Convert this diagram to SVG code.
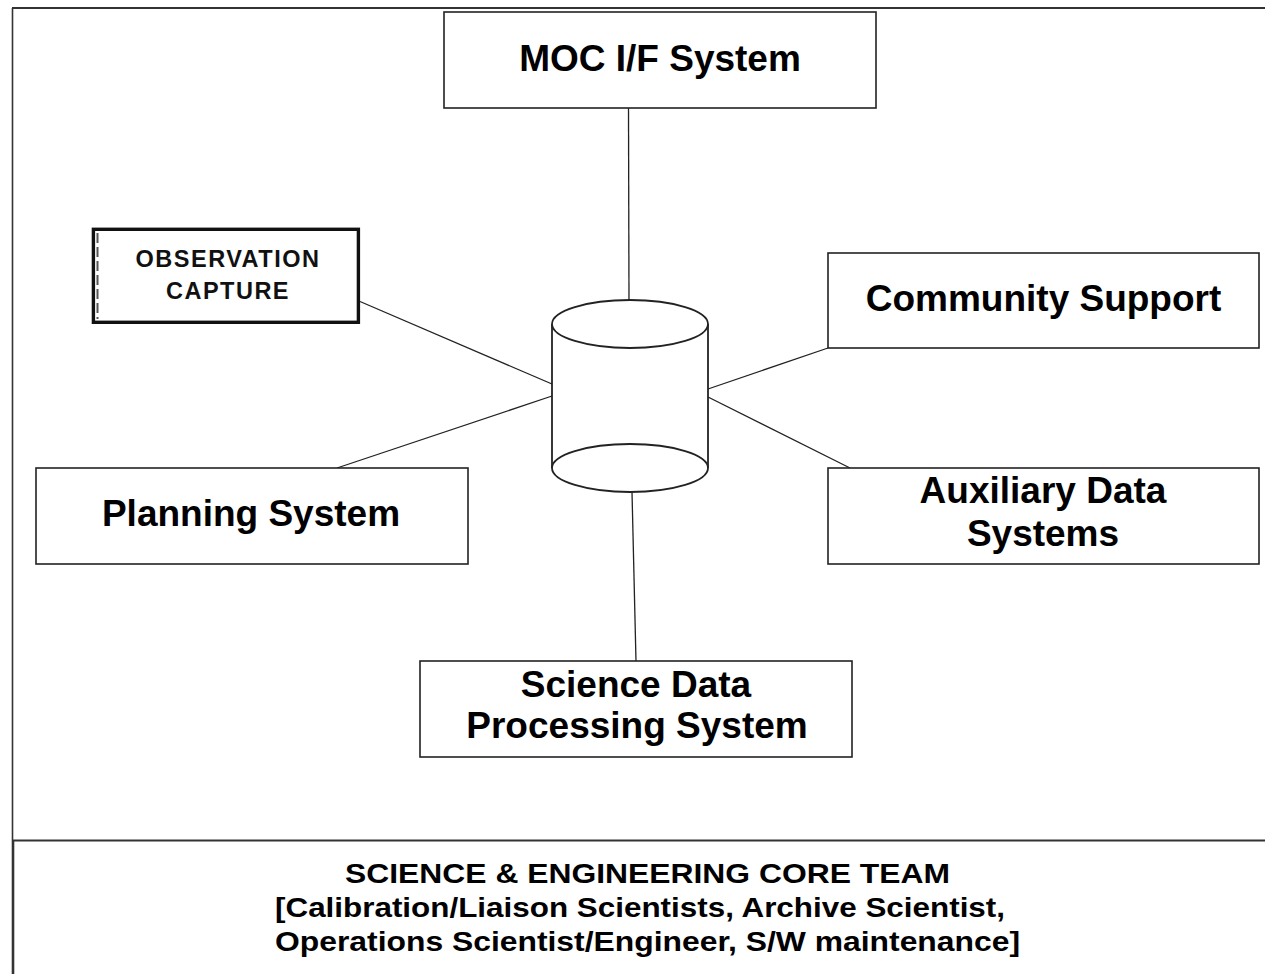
<svg xmlns="http://www.w3.org/2000/svg" width="1265" height="977" viewBox="0 0 1265 977">
  <style>
    .box { fill: #ffffff; stroke: #222222; stroke-width: 1.6; }
    .lbl { font-family: "Liberation Sans", Arial, sans-serif; font-weight: bold; font-size: 37px; fill: #000000; text-anchor: middle; }
    .small { font-family: "Liberation Sans", Arial, sans-serif; font-weight: bold; font-size: 23.5px; fill: #111111; text-anchor: middle; letter-spacing: 1.5px; }
    .team { font-family: "Liberation Sans", Arial, sans-serif; font-weight: bold; font-size: 28.5px; fill: #000000; }
    .link { stroke: #222222; stroke-width: 1.3; fill: none; }
    .cyl { fill: #ffffff; stroke: #222222; stroke-width: 1.8; }
    .frame { stroke: #333333; fill: none; }
  </style>
  <rect x="0" y="0" width="1265" height="977" fill="#ffffff"/>

  <!-- outer frame and team panel divider -->
  <g id="frame">
    <line class="frame" x1="12" y1="8" x2="1265" y2="8" stroke-width="2.2"/>
    <line class="frame" x1="12.5" y1="8" x2="12.5" y2="840" stroke-width="1.6" stroke="#666666"/>
    <line class="frame" x1="13" y1="840" x2="13" y2="974" stroke-width="2.6" stroke="#111111"/>
    <line class="frame" x1="12" y1="840.5" x2="1265" y2="840.5" stroke-width="2.2"/>
  </g>

  <!-- connectors from the central store to each subsystem -->
  <g id="connectors">
    <line class="link" x1="628.5" y1="108" x2="629" y2="300"/>
    <line class="link" x1="360" y1="301.5" x2="552" y2="384"/>
    <line class="link" x1="337" y1="468" x2="552" y2="396"/>
    <line class="link" x1="828" y1="348" x2="708" y2="389"/>
    <line class="link" x1="850" y1="468" x2="708" y2="397"/>
    <line class="link" x1="632" y1="492" x2="636" y2="661"/>
  </g>

  <!-- central data store -->
  <g id="datastore">
    <rect x="552" y="324" width="156" height="144" fill="#ffffff" stroke="none"/>
    <line class="cyl" x1="552" y1="324" x2="552" y2="468"/>
    <line class="cyl" x1="708" y1="324" x2="708" y2="468"/>
    <ellipse class="cyl" cx="630" cy="468" rx="78" ry="24"/>
    <ellipse class="cyl" cx="630" cy="324" rx="78" ry="24"/>
  </g>

  <g id="moc">
    <rect class="box" x="444" y="12" width="432" height="96"/>
    <text class="lbl" x="660" y="71">MOC I/F System</text>
  </g>

  <g id="observation-capture">
    <rect x="93.4" y="229.3" width="265" height="93" fill="#ffffff" stroke="#111111" stroke-width="3.4"/>
    <line x1="97.5" y1="233" x2="97.5" y2="319" stroke="#555555" stroke-width="2" stroke-dasharray="10 4"/>
    <text class="small" x="228" y="267">OBSERVATION</text>
    <text class="small" x="228" y="299">CAPTURE</text>
  </g>

  <g id="community-support">
    <rect class="box" x="828" y="253" width="431" height="95"/>
    <text class="lbl" x="1043.5" y="311">Community Support</text>
  </g>

  <g id="planning-system">
    <rect class="box" x="36" y="468" width="432" height="96"/>
    <text class="lbl" x="251" y="526">Planning System</text>
  </g>

  <g id="auxiliary-data">
    <rect class="box" x="828" y="468" width="431" height="96"/>
    <text class="lbl" x="1043" y="503">Auxiliary Data</text>
    <text class="lbl" x="1043" y="546">Systems</text>
  </g>

  <g id="science-data-processing">
    <rect class="box" x="420" y="661" width="432" height="96"/>
    <text class="lbl" x="636" y="697">Science Data</text>
    <text class="lbl" x="637" y="738">Processing System</text>
  </g>

  <g id="core-team">
    <text class="team" x="345" y="883" textLength="605" lengthAdjust="spacingAndGlyphs">SCIENCE &amp; ENGINEERING CORE TEAM</text>
    <text class="team" x="275" y="917" textLength="730" lengthAdjust="spacingAndGlyphs">[Calibration/Liaison Scientists, Archive Scientist,</text>
    <text class="team" x="275" y="951" textLength="745" lengthAdjust="spacingAndGlyphs">Operations Scientist/Engineer, S/W maintenance]</text>
  </g>
</svg>
